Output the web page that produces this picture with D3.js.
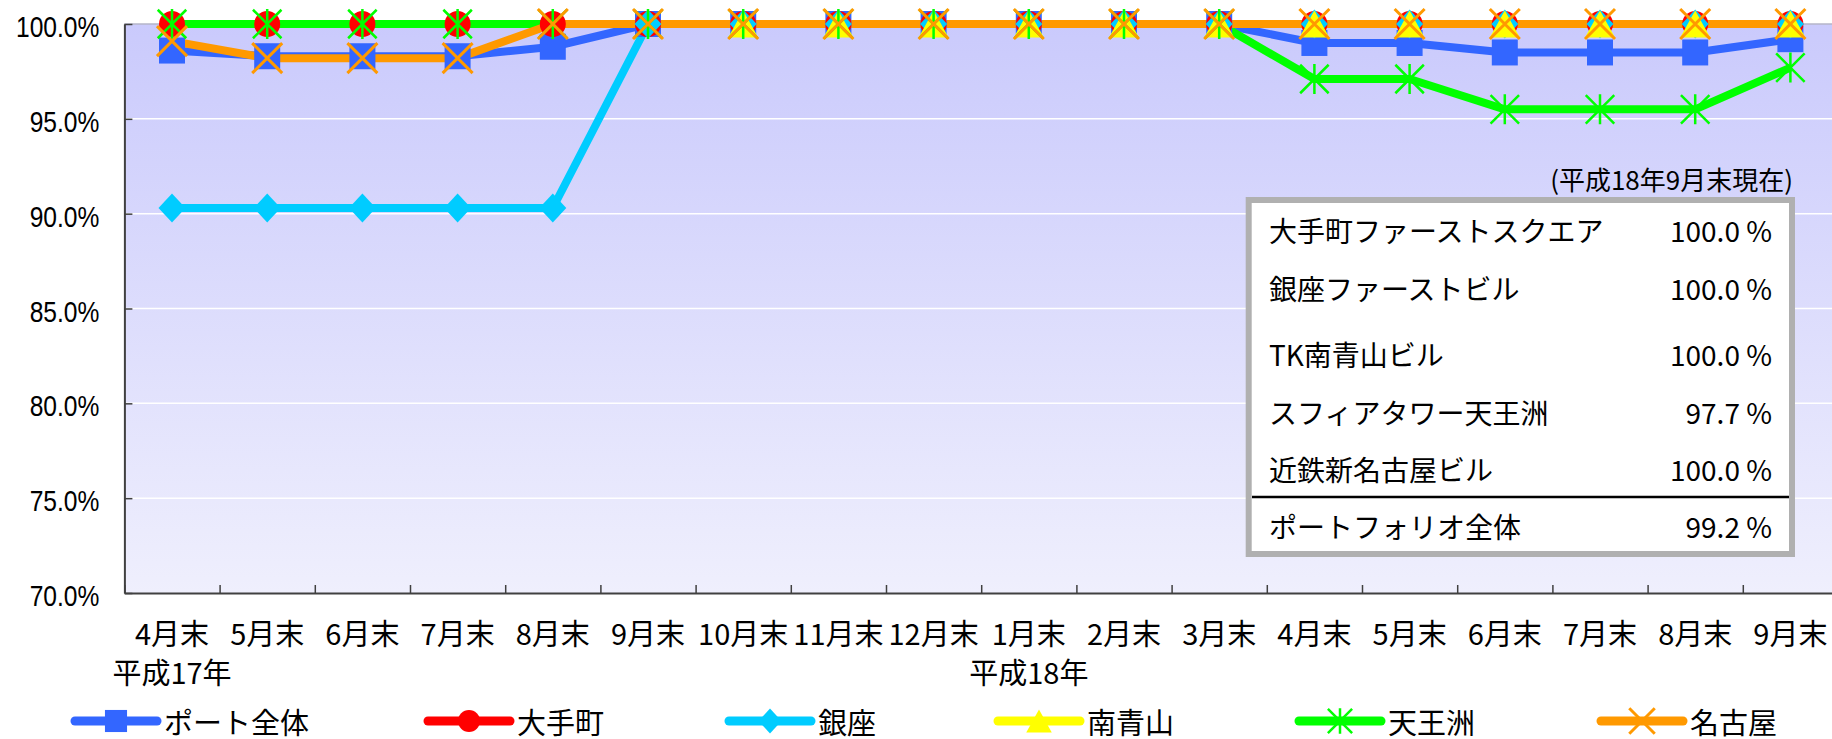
<!DOCTYPE html>
<html><head><meta charset="utf-8">
<script src="https://cdn.jsdelivr.net/npm/d3@7"></script>
<style>html,body{margin:0;padding:0;background:#fff;overflow:hidden}</style>
</head><body><svg id="c" width="1832" height="739"></svg>
<script>
// ---------- data ----------
const months = ["4月末","5月末","6月末","7月末","8月末","9月末","10月末","11月末","12月末","1月末","2月末","3月末","4月末","5月末","6月末","7月末","8月末","9月末"];
const yearLabels = ["平成17年","平成18年"];
const yearLabelIndex = [0, 9];
const yTicks = [70, 75, 80, 85, 90, 95, 100];
const seriesNames = ["ポート全体","大手町","銀座","南青山","天王洲","名古屋"];
const portfolio    = [98.6,98.3,98.3,98.3,98.8,100,100,100,100,100,100,100,99.0,99.0,98.5,98.5,98.5,99.2];
const otemachi     = [100,100,100,100,100,100,100,100,100,100,100,100,100,100,100,100,100,100];
const ginza        = [90.3,90.3,90.3,90.3,90.3,100,100,100,100,100,100,100,100,100,100,100,100,100];
const minamiAoyama = [null,null,null,null,null,null,100,100,100,100,100,100,100,100,100,100,100,100];
const tennozu      = [100,100,100,100,100,100,100,100,100,100,100,100,97.1,97.1,95.5,95.5,95.5,97.7];
const nagoya       = [99.1,98.2,98.2,98.2,100,100,100,100,100,100,100,100,100,100,100,100,100,100];
const tableNote = "(平成18年9月末現在)";
const tableNames = ["大手町ファーストスクエア","銀座ファーストビル","TK南青山ビル","スフィアタワー天王洲","近鉄新名古屋ビル","ポートフォリオ全体"];
const tableValues = [100.0,100.0,100.0,97.7,100.0,99.2];

// ---------- styles ----------
const colors = ["#3366FF","#FF0000","#00CCFF","#FFFF00","#00FF00","#FF9900"];
const seriesValues = [portfolio, otemachi, ginza, minamiAoyama, tennozu, nagoya];
const FONT = '"Noto Sans CJK JP","Noto Sans",sans-serif';

const svg = d3.select("#c");
const plotLeft = 124.4, band = 95.2, plotTop = 24, plotBottom = 593;

const x = d3.scaleBand().domain(d3.range(months.length)).range([plotLeft, plotLeft + band * months.length]).padding(0);
const xEdge = d3.scaleLinear().domain([0, months.length]).range(x.range());
const y = d3.scaleLinear().domain([70, 100]).range([plotBottom, plotTop]);
const cx = i => x(i) + x.bandwidth() / 2;

// background gradient
const defs = svg.append("defs");
const grad = defs.append("linearGradient").attr("id","bg").attr("x1",0).attr("y1",0).attr("x2",0).attr("y2",1);
grad.append("stop").attr("offset","0%").attr("stop-color","#CACAFC");
grad.append("stop").attr("offset","100%").attr("stop-color","#EFEFFD");
svg.append("rect").attr("x", plotLeft).attr("y", plotTop).attr("width", 1832 - plotLeft).attr("height", plotBottom - plotTop).attr("fill","url(#bg)");
svg.append("line").attr("x1", plotLeft).attr("x2", 1832).attr("y1", plotTop).attr("y2", plotTop).attr("stroke","#B4B4C8").attr("stroke-width",1.5);

// grid
svg.append("g").selectAll("line").data(yTicks.filter(d => d > 70 && d < 100)).join("line")
  .attr("x1", plotLeft).attr("x2", 1832).attr("y1", d => y(d)).attr("y2", d => y(d))
  .attr("stroke","#FFFFFF").attr("stroke-width",1.5);

// y axis
const gy = svg.append("g").attr("transform", `translate(${plotLeft},0)`)
  .call(d3.axisLeft(y).tickValues(yTicks).tickSize(-8).tickSizeOuter(0).tickFormat(d => d.toFixed(1) + "%"));
gy.select(".domain").attr("stroke","#404040").attr("stroke-width",2);
gy.selectAll(".tick line").attr("stroke","#404040").attr("stroke-width",1.5);
gy.selectAll(".tick text").attr("font-family",'"Liberation Sans",Arial,sans-serif').attr("font-size",30)
  .attr("fill","#000").attr("x", -25 / 0.82).attr("dy","0.42em").attr("transform","scale(0.82,1)");

// x axis (ticks at category edges)
const gx = svg.append("g").attr("transform", `translate(0,${plotBottom})`)
  .call(d3.axisBottom(xEdge).tickValues(d3.range(0, months.length + 1)).tickSize(-8).tickSizeOuter(0).tickFormat(""));
gx.select(".domain").attr("stroke","#404040").attr("stroke-width",2);
gx.selectAll(".tick line").attr("stroke","#404040").attr("stroke-width",1.5);

svg.append("g").selectAll("text").data(months).join("text")
  .attr("x", (d,i) => cx(i)).attr("y", 645).attr("text-anchor","middle")
  .attr("font-family", FONT).attr("font-size", 29).attr("fill","#000").text(d => d);
svg.append("g").selectAll("text").data(yearLabels).join("text")
  .attr("x", (d,i) => cx(yearLabelIndex[i])).attr("y", 684).attr("text-anchor","middle")
  .attr("font-family", FONT).attr("font-size", 29).attr("fill","#000").text(d => d);

// marker symbol types
const star = { draw(ctx, size) { const r = Math.sqrt(size) / 2;
  ctx.moveTo(0, -r); ctx.lineTo(0, r);
  ctx.moveTo(-r * 0.95, -r * 0.95); ctx.lineTo(r * 0.95, r * 0.95);
  ctx.moveTo(r * 0.95, -r * 0.95); ctx.lineTo(-r * 0.95, r * 0.95); } };
const cross = { draw(ctx, size) { const r = Math.sqrt(size) / 2;
  ctx.moveTo(-r, -r); ctx.lineTo(r, r); ctx.moveTo(r, -r); ctx.lineTo(-r, r); } };
const diamond = { draw(ctx, size) { const w = Math.sqrt(size) / 2, h = w * 1.08;
  ctx.moveTo(0, -h); ctx.lineTo(w, 0); ctx.lineTo(0, h); ctx.lineTo(-w, 0); ctx.closePath(); } };
const triangle = { draw(ctx, size) { const w = Math.sqrt(size) / 2, h = w * 0.9;
  ctx.moveTo(0, -h); ctx.lineTo(w, h); ctx.lineTo(-w, h); ctx.closePath(); } };
const square = { draw(ctx, size) { const w = Math.sqrt(size) / 2;
  ctx.rect(-w, -w, 2 * w, 2 * w); } };
const circle = { draw(ctx, size) { const r = Math.sqrt(size) / 2;
  ctx.moveTo(r, 0); ctx.arc(0, 0, r, 0, 2 * Math.PI); } };
const markerTypes = [square, circle, diamond, triangle, star, cross];
const markerSizes = [26, 26, 27, 30, 30, 30];
const markerStroke = [false, false, false, false, 2.5, 3];

// lines
const line = d3.line().defined(d => d != null).x((d,i) => cx(i)).y(d => y(d));
svg.append("g").selectAll("path").data(seriesValues).join("path")
  .attr("d", d => line(d)).attr("fill","none")
  .attr("stroke", (d,i) => colors[i]).attr("stroke-width", 8).attr("stroke-linejoin","round");

// markers
function drawMarker(sel, k, scale) {
  const p = d3.symbol().type(markerTypes[k]).size(Math.pow(markerSizes[k] * scale, 2));
  sel.attr("d", p());
  if (markerStroke[k]) sel.attr("fill","none").attr("stroke", colors[k]).attr("stroke-width", markerStroke[k]);
  else sel.attr("fill", colors[k]).attr("stroke","none");
}
seriesValues.forEach((vals, k) => {
  const pts = vals.map((v,i) => ({v, i})).filter(d => d.v != null);
  svg.append("g").selectAll("path").data(pts).join("path")
    .attr("transform", d => `translate(${cx(d.i)},${y(d.v)})`)
    .call(drawMarker, k, 1);
});

// table box
svg.append("text").attr("x", 1793).attr("y", 190).attr("text-anchor","end")
  .attr("font-family", FONT).attr("font-size", 26).attr("fill","#000").text(tableNote);
svg.append("rect").attr("x", 1248.7).attr("y", 200).attr("width", 543.3).attr("height", 354)
  .attr("fill","#FFFFFF").attr("stroke","#B0B0B0").attr("stroke-width",6);
const rowCenters = [231.5, 289, 355.5, 413.5, 470, 527.5];
const tg = svg.append("g");
tg.selectAll("text.name").data(tableNames).join("text").attr("class","name")
  .attr("x", 1269).attr("y", (d,i) => rowCenters[i] + 10.5)
  .attr("font-family", FONT).attr("font-size", 28).attr("fill","#000").text(d => d);
tg.selectAll("text.val").data(tableValues).join("text").attr("class","val")
  .attr("x", 1772).attr("y", (d,i) => rowCenters[i] + 10.5).attr("text-anchor","end")
  .attr("font-family", FONT).attr("font-size", 28).attr("fill","#000").text(d => d.toFixed(1) + " %");
svg.append("line").attr("x1", 1252).attr("x2", 1789).attr("y1", 497).attr("y2", 497)
  .attr("stroke","#000").attr("stroke-width",2.5);

// legend
const legendX = [75, 428, 729, 998, 1299, 1601];
const lg = svg.append("g");
seriesNames.forEach((name, k) => {
  const g = lg.append("g").attr("transform", `translate(${legendX[k]},721)`);
  g.append("line").attr("x1", 0).attr("x2", 82).attr("y1", 0).attr("y2", 0)
    .attr("stroke", colors[k]).attr("stroke-width", 9).attr("stroke-linecap","round");
  g.append("path").attr("transform","translate(41,0)").call(drawMarker, k, 0.85);
  g.append("text").attr("x", 89).attr("y", 13).attr("font-family", FONT).attr("font-size", 29)
    .attr("fill","#000").text(name);
});
</script></body></html>
